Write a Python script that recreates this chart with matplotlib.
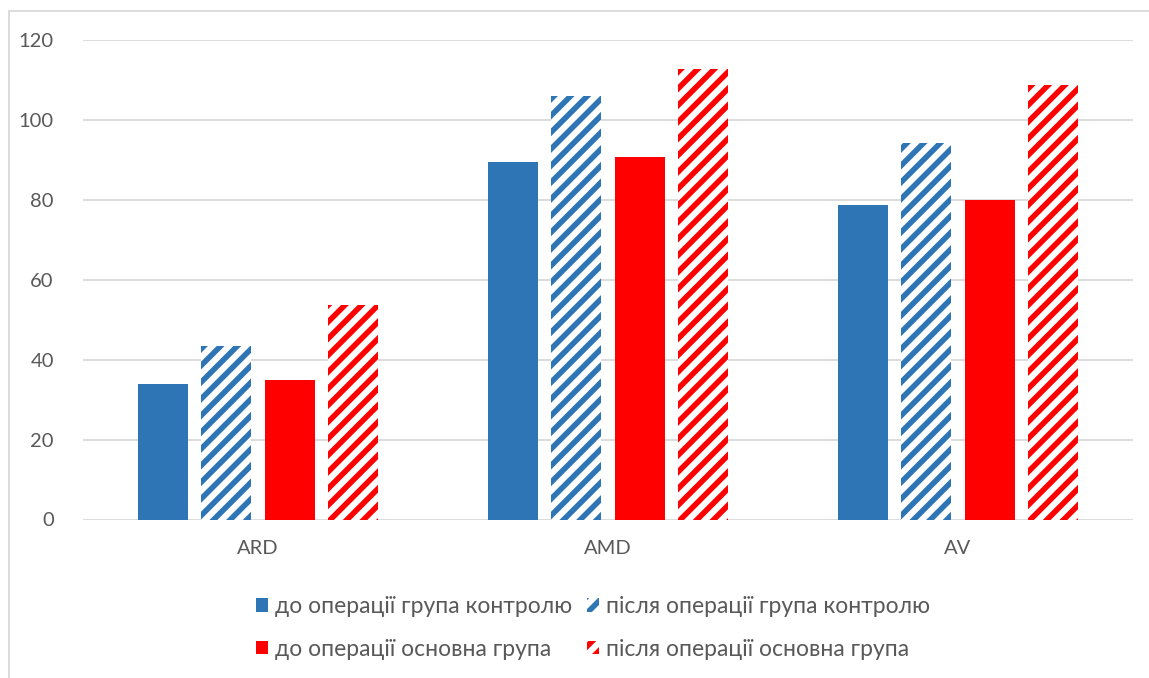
import matplotlib
matplotlib.use("Agg")
import matplotlib.pyplot as plt
from matplotlib.patches import Rectangle, Patch
import numpy as np

plt.rcParams['font.family'] = ['Lato', 'DejaVu Sans']
plt.rcParams['hatch.linewidth'] = 4.0

categories = ["ARD", "AMD", "AV"]
control_before = [34, 89.5, 78.7]
control_after = [43.3, 106, 94.2]
main_before = [34.8, 90.7, 80]
main_after = [53.6, 112.8, 108.8]
labels = ["до операції група контролю", "після операції група контролю",
          "до операції основна група", "після операції основна група"]
yticks = [0, 20, 40, 60, 80, 100, 120]

BLUE = "#2E75B6"
RED = "#FF0000"
TXT = "#595959"
GRID = "#D9D9D9"

W, H = 1149, 678
fig = plt.figure(figsize=(W / 100, H / 100), dpi=100)
fig.patches.append(Rectangle((8.5 / W, -0.1), 2.0, 1.1 - 11.5 / H + 0.0,
                             transform=fig.transFigure, fill=False,
                             edgecolor=GRID, linewidth=1.3, zorder=0))

ax = fig.add_axes([83 / W, (H - 519.5) / H, 1050 / W, 479.5 / H])
x = np.arange(len(categories))
step = 0.181
bw = 0.143
series = [(control_before, BLUE, False), (control_after, BLUE, True),
          (main_before, RED, False), (main_after, RED, True)]
handles = []
for i, (vals, col, hatched) in enumerate(series):
    pos = x + (i - 1.5) * step
    if hatched:
        ax.bar(pos, vals, width=bw, facecolor="white", edgecolor=col,
               linewidth=0, hatch="//", zorder=3)
        handles.append(Patch(facecolor="white", edgecolor=col, linewidth=0,
                             hatch="//", label=labels[i]))
    else:
        ax.bar(pos, vals, width=bw, color=col, linewidth=0, zorder=3)
        handles.append(Patch(facecolor=col, linewidth=0, label=labels[i]))

ax.set_xlim(-0.5, len(categories) - 0.5)
ax.set_ylim(0, 120)
ax.set_yticks(yticks)
ax.set_xticks(x)
ax.set_xticklabels(categories)
ax.yaxis.grid(True, color=GRID, linewidth=1.3, zorder=0)
ax.set_axisbelow(True)
for s in ax.spines.values():
    s.set_visible(False)
ax.tick_params(axis='both', length=0, colors=TXT, labelsize=14.5)
ax.tick_params(axis='y', pad=21)
ax.tick_params(axis='x', pad=15)

order = [handles[0], handles[2], handles[1], handles[3]]
leg = fig.legend(handles=order, labels=[h.get_label() for h in order],
                 ncol=2, loc='center', bbox_to_anchor=(593 / W, 1 - 628 / H),
                 frameon=False, fontsize=16.5, handlelength=0.55,
                 handleheight=0.55, handletextpad=0.3, columnspacing=0.62,
                 labelspacing=0.93, labelcolor=TXT)

fig.savefig("out.png", dpi=100, facecolor="white")
